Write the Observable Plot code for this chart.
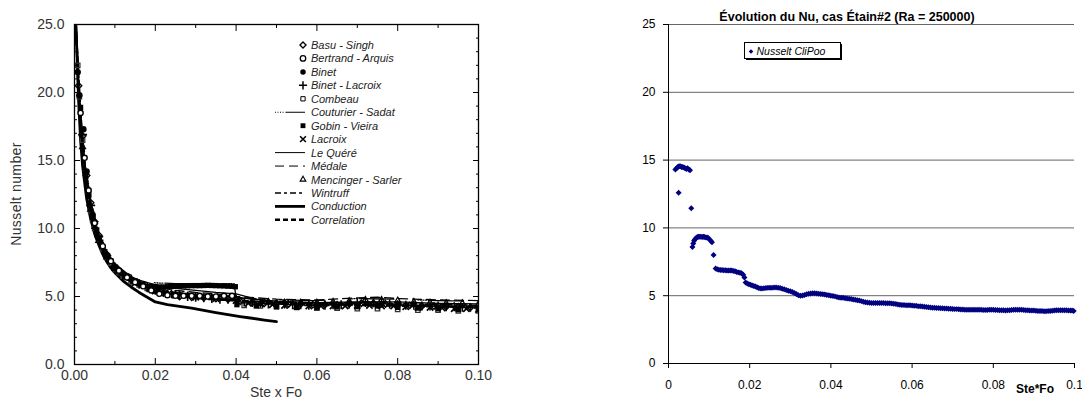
<!DOCTYPE html>
<html><head><meta charset="utf-8">
<script src="https://cdn.jsdelivr.net/npm/d3@7"></script>
<script src="https://cdn.jsdelivr.net/npm/@observablehq/plot@0.6"></script>
<style>
html,body{margin:0;padding:0;background:#fff;}
#wrap{position:relative;width:1082px;height:399px;overflow:hidden;font-family:"Liberation Sans",Arial,sans-serif;}
#left{position:absolute;left:0;top:0;}
#right{position:absolute;left:560px;top:0;}
#overlay{position:absolute;left:0;top:0;pointer-events:none;}
</style></head><body>
<div id="wrap"><div id="left"></div><div id="right"></div><svg id="overlay" width="1082" height="399"></svg></div>
<script>
// ---------- LEFT PANEL DATA: [Ste x Fo, Nusselt] ----------
const leftSeriesNames = ["Basu - Singh","Bertrand - Arquis","Binet","Binet - Lacroix","Combeau","Couturier - Sadat","Gobin - Vieira","Lacroix","Le Quéré","Médale","Mencinger - Sarler","Wintruff","Conduction","Correlation"];

const basuSingh = [[0.001,20.5],[0.002,16.8],[0.003,13.9],[0.004,11.9],[0.005,10.5],[0.006,9.5],[0.008,8.1],[0.010,7.2],[0.012,6.65],[0.014,6.25],[0.016,5.95],[0.018,5.7],[0.020,5.5],[0.023,5.2],[0.026,5.0],[0.029,4.95],[0.032,4.9],[0.035,4.85],[0.038,4.8],[0.041,4.65],[0.044,4.55],[0.047,4.5],[0.050,4.5],[0.053,4.45],[0.056,4.45],[0.059,4.4],[0.062,4.4],[0.065,4.4],[0.068,4.45],[0.071,4.5],[0.074,4.5],[0.077,4.45],[0.080,4.4],[0.083,4.35],[0.086,4.3],[0.089,4.3],[0.092,4.25],[0.095,4.25],[0.098,4.2]];
const bertrandArquis = [[0.0015,18.5],[0.0025,15.2],[0.0035,12.8],[0.005,10.4],[0.007,8.7],[0.009,7.6],[0.011,6.9],[0.013,6.4],[0.015,6.05],[0.017,5.75],[0.019,5.45],[0.021,5.2],[0.023,5.1],[0.025,5.05],[0.027,5.05],[0.029,5.05],[0.031,5.05],[0.033,5.0],[0.035,5.0],[0.037,5.05],[0.039,5.05]];
const binet = [[0.0008,21.5],[0.0012,19.8],[0.0022,17.3],[0.003,14.2],[0.0045,11.0],[0.006,9.3],[0.008,8.0],[0.010,7.1]];
const binetLacroix = [[0.002,16.9],[0.004,11.7],[0.006,9.4],[0.008,8.0],[0.010,7.15],[0.012,6.6],[0.014,6.2],[0.016,5.9],[0.018,5.65],[0.020,5.45],[0.022,5.3],[0.024,5.2],[0.026,5.1],[0.028,5.0],[0.030,4.95],[0.032,4.9],[0.034,4.85],[0.036,4.8],[0.038,4.8],[0.040,4.75],[0.042,4.6],[0.044,4.55],[0.046,4.5],[0.048,4.45],[0.050,4.45],[0.052,4.45],[0.054,4.4],[0.056,4.4],[0.058,4.35],[0.060,4.35],[0.062,4.35],[0.064,4.4],[0.066,4.4],[0.068,4.45],[0.070,4.5],[0.072,4.55],[0.074,4.55],[0.076,4.5],[0.078,4.45],[0.080,4.4],[0.082,4.35],[0.084,4.35],[0.086,4.3],[0.088,4.3],[0.090,4.3],[0.092,4.25],[0.094,4.25],[0.096,4.2],[0.098,4.2],[0.100,4.15]];
const combeau = [[0.0008,22],[0.0012,19.7],[0.002,16.5],[0.0028,14.1],[0.0035,12.5],[0.004,11.3],[0.0045,10.6],[0.005,10.0],[0.006,9.2],[0.007,8.5],[0.008,7.9],[0.009,7.45],[0.010,7.0],[0.011,6.75],[0.012,6.5],[0.014,6.15],[0.016,5.85],[0.018,5.6],[0.020,5.4],[0.022,5.25],[0.042,4.35],[0.046,4.3],[0.050,4.25],[0.055,4.2],[0.060,4.15],[0.065,4.15],[0.070,4.1],[0.075,4.1],[0.080,4.05],[0.085,4.0],[0.090,4.0],[0.095,3.95],[0.100,3.95]];
const couturierSadat = [[0.0005,24],[0.001,20],[0.002,16.8],[0.004,12],[0.006,9.8],[0.008,8.3],[0.010,7.4],[0.013,6.7],[0.016,6.3],[0.020,6.0],[0.025,5.95],[0.030,5.95],[0.035,5.95],[0.0395,5.95],[0.040,4.9],[0.050,4.75],[0.060,4.7],[0.070,4.85],[0.080,4.8],[0.090,4.7],[0.100,4.65]];
const gobinVieira = [[0.0015,18.9],[0.0027,14.0],[0.0035,12.4],[0.0045,10.8],[0.0055,9.9],[0.0065,9.0],[0.0075,8.3],[0.009,7.6],[0.011,6.9],[0.013,6.5],[0.015,6.15],[0.017,5.9],[0.019,5.75],[0.020,5.72],[0.021,5.7],[0.022,5.7],[0.023,5.72],[0.024,5.73],[0.025,5.75],[0.026,5.76],[0.027,5.78],[0.028,5.79],[0.029,5.8],[0.030,5.8],[0.031,5.8],[0.032,5.81],[0.033,5.82],[0.034,5.81],[0.035,5.8],[0.036,5.79],[0.037,5.78],[0.038,5.76],[0.039,5.75],[0.0398,5.72],[0.0402,4.4],[0.045,4.3],[0.050,4.25],[0.055,4.2],[0.060,4.2],[0.065,4.25],[0.070,4.25],[0.075,4.3],[0.080,4.2],[0.085,4.15],[0.090,4.1],[0.095,4.05],[0.100,4.05]];
const lacroix = [[0.005,10.2],[0.010,7.1],[0.015,6.0],[0.020,5.4],[0.025,5.1],[0.030,4.95],[0.035,4.85],[0.040,4.7],[0.043,4.5],[0.046,4.45],[0.049,4.4],[0.052,4.35],[0.055,4.3],[0.058,4.3],[0.061,4.3],[0.064,4.3],[0.067,4.3],[0.070,4.35],[0.073,4.35],[0.076,4.3],[0.079,4.3],[0.082,4.25],[0.085,4.2],[0.088,4.2],[0.091,4.15],[0.094,4.1],[0.097,4.1],[0.100,4.05]];
const leQuere = [[0.0005,25],[0.001,20.5],[0.002,16.5],[0.003,13.8],[0.004,11.9],[0.005,10.6],[0.006,9.6],[0.008,8.2],[0.010,7.3],[0.013,6.6],[0.016,6.2],[0.020,5.85],[0.025,5.6],[0.030,5.45],[0.035,5.3],[0.040,5.2],[0.045,4.8],[0.050,4.65],[0.060,4.55],[0.070,4.6],[0.080,4.6],[0.090,4.5],[0.100,4.45]];
const medale = [[0.0005,24.5],[0.001,20.8],[0.002,16.2],[0.004,11.4],[0.006,9.1],[0.008,7.9],[0.010,7.1],[0.013,6.5],[0.016,6.05],[0.020,5.7],[0.025,5.45],[0.030,5.3],[0.035,5.2],[0.040,5.0],[0.050,4.8],[0.060,4.75],[0.070,4.9],[0.075,4.95],[0.080,4.85],[0.090,4.75],[0.100,4.7]];
const mencingerSarler = [[0.002,16.0],[0.004,11.4],[0.006,9.1],[0.008,7.9],[0.010,7.05],[0.013,6.4],[0.016,5.95],[0.019,5.55],[0.022,5.3],[0.025,5.15],[0.028,5.05],[0.031,4.95],[0.034,4.9],[0.037,4.85],[0.040,4.8],[0.044,4.65],[0.048,4.6],[0.052,4.55],[0.056,4.55],[0.060,4.55],[0.064,4.6],[0.068,4.65],[0.072,4.75],[0.076,4.75],[0.080,4.7],[0.084,4.6],[0.088,4.55],[0.092,4.5],[0.096,4.5],[0.100,4.45]];
const wintruff = [[0.0005,23],[0.001,19.8],[0.002,15.5],[0.004,11.2],[0.006,9.0],[0.008,7.8],[0.010,7.0],[0.013,6.35],[0.016,5.9],[0.020,5.55],[0.025,5.3],[0.030,5.15],[0.035,5.05],[0.040,4.95],[0.050,4.6],[0.060,4.5],[0.070,4.55],[0.080,4.5],[0.090,4.4],[0.100,4.35]];
const conduction = [[0.0003,25],[0.0006,23],[0.001,19.5],[0.0015,16.5],[0.002,14.6],[0.003,12.2],[0.004,10.7],[0.005,9.6],[0.006,8.8],[0.007,8.1],[0.008,7.55],[0.009,7.1],[0.010,6.75],[0.012,6.15],[0.014,5.7],[0.016,5.3],[0.018,4.95],[0.020,4.6],[0.023,4.4],[0.026,4.28],[0.029,4.15],[0.032,3.98],[0.035,3.82],[0.038,3.66],[0.041,3.52],[0.044,3.4],[0.047,3.27],[0.050,3.15]];
const correlation = [[0.0003,25],[0.001,21],[0.002,16],[0.003,13.5],[0.004,11.6],[0.005,10.3],[0.006,9.3],[0.008,8.0],[0.010,7.2],[0.013,6.4],[0.016,5.95],[0.020,5.5],[0.025,5.15],[0.030,4.95],[0.035,4.8],[0.040,4.7],[0.050,4.55],[0.060,4.45],[0.070,4.38],[0.080,4.32],[0.090,4.27],[0.100,4.22]];

const leftMajorX = [0, 0.02, 0.04, 0.06, 0.08, 0.1];
const leftMinorX = [0.01, 0.03, 0.05, 0.07, 0.09];
const leftMajorY = [0, 5, 10, 15, 20, 25];
const leftMinorY = [1,2,3,4,6,7,8,9,11,12,13,14,16,17,18,19,21,22,23,24];

// ---------- RIGHT PANEL DATA: Nusselt CliPoo [Ste*Fo, Nu] ----------
const cliPoo = [[0.0017,14.3],[0.0020,14.4],[0.0023,14.5],[0.0025,12.6],[0.0026,14.55],[0.0029,14.55],[0.0032,14.5],[0.0035,14.5],[0.0038,14.45],[0.0041,14.4],[0.0044,14.35],[0.0047,14.4],[0.0050,14.3],[0.0053,14.25],[0.0056,11.45],[0.0059,8.6],[0.0061,8.85],[0.0063,9.05],[0.0065,9.15],[0.0068,9.25],[0.0071,9.33],[0.0074,9.35],[0.0077,9.35],[0.0080,9.35],[0.0083,9.33],[0.0086,9.35],[0.0089,9.32],[0.0092,9.3],[0.0095,9.3],[0.0098,9.25],[0.0101,9.15],[0.0104,9.05],[0.0107,8.95],[0.0111,8.0],[0.0116,7.0],[0.0120,6.95],[0.0124,6.92],[0.0128,6.9],[0.0132,6.9],[0.0136,6.88],[0.0140,6.87],[0.0144,6.86],[0.0148,6.86],[0.0152,6.85],[0.0156,6.85],[0.0160,6.83],[0.0164,6.8],[0.0168,6.75],[0.0172,6.72],[0.0176,6.7],[0.0180,6.66],[0.0184,6.55],[0.0187,6.35],[0.0190,5.98],[0.0194,5.9],[0.0198,5.85],[0.0202,5.8],[0.0206,5.76],[0.0210,5.72],[0.0214,5.68],[0.0218,5.62],[0.0222,5.56],[0.0226,5.54],[0.0230,5.53],[0.0235,5.55],[0.0240,5.56],[0.0245,5.58],[0.0250,5.58],[0.0255,5.59],[0.0260,5.6],[0.0265,5.6],[0.0270,5.59],[0.0275,5.56],[0.0280,5.52],[0.0285,5.47],[0.0290,5.42],[0.0295,5.37],[0.0300,5.32],[0.0305,5.27],[0.0310,5.2],[0.0315,5.12],[0.0320,5.03],[0.0325,5.0],[0.0330,5.02],[0.0335,5.06],[0.0340,5.1],[0.0345,5.14],[0.0350,5.17],[0.0355,5.18],[0.0360,5.18],[0.0365,5.17],[0.0370,5.15],[0.0375,5.13],[0.0380,5.1],[0.0385,5.08],[0.0390,5.05],[0.0395,5.03],[0.0400,5.0],[0.0405,4.98],[0.041,4.95],[0.0415,4.91],[0.042,4.87],[0.0425,4.85],[0.043,4.84],[0.0435,4.82],[0.044,4.8],[0.0445,4.78],[0.045,4.75],[0.0455,4.72],[0.046,4.7],[0.0465,4.67],[0.047,4.64],[0.0475,4.6],[0.048,4.56],[0.0485,4.52],[0.049,4.49],[0.0495,4.48],[0.050,4.47],[0.0505,4.46],[0.051,4.46],[0.0515,4.46],[0.052,4.46],[0.0525,4.46],[0.053,4.46],[0.0535,4.45],[0.054,4.45],[0.0545,4.44],[0.055,4.42],[0.0555,4.4],[0.056,4.38],[0.0565,4.36],[0.057,4.34],[0.0575,4.32],[0.058,4.31],[0.0585,4.3],[0.059,4.3],[0.0595,4.29],[0.060,4.28],[0.0605,4.26],[0.061,4.25],[0.0615,4.23],[0.062,4.22],[0.0625,4.2],[0.063,4.18],[0.0635,4.16],[0.064,4.15],[0.0645,4.13],[0.065,4.12],[0.0655,4.11],[0.066,4.1],[0.0665,4.09],[0.067,4.08],[0.0675,4.07],[0.068,4.06],[0.0685,4.05],[0.069,4.04],[0.0695,4.03],[0.070,4.02],[0.0705,4.01],[0.071,4.01],[0.0715,4.0],[0.072,3.99],[0.0725,3.98],[0.073,3.97],[0.0735,3.96],[0.074,3.96],[0.0745,3.96],[0.075,3.96],[0.0755,3.96],[0.076,3.96],[0.0765,3.96],[0.077,3.96],[0.0775,3.95],[0.078,3.95],[0.0785,3.95],[0.079,3.96],[0.0795,3.96],[0.080,3.96],[0.0805,3.95],[0.081,3.94],[0.0815,3.93],[0.082,3.93],[0.0825,3.92],[0.083,3.91],[0.0835,3.92],[0.084,3.93],[0.0845,3.95],[0.085,3.96],[0.0855,3.97],[0.086,3.97],[0.0865,3.96],[0.087,3.96],[0.0875,3.94],[0.088,3.93],[0.0885,3.92],[0.089,3.91],[0.0895,3.9],[0.090,3.9],[0.0905,3.89],[0.091,3.88],[0.0915,3.87],[0.092,3.87],[0.0925,3.86],[0.093,3.86],[0.0935,3.87],[0.094,3.88],[0.0945,3.89],[0.095,3.9],[0.0955,3.92],[0.096,3.93],[0.0965,3.93],[0.097,3.93],[0.0975,3.92],[0.098,3.92],[0.0985,3.91],[0.099,3.91],[0.0994,3.9],[0.0998,3.88]];
const rightTicksX = [0, 0.02, 0.04, 0.06, 0.08, 0.1];
const rightTicksY = [0, 5, 10, 15, 20, 25];

// ---------- LEFT CHART ----------
const xy = {x: d => d[0], y: d => d[1], clip: true};
const blank = () => "";
const inTicks = (ticks, anchor, size) => {
  const shift = {bottom: {dy: -size}, top: {dy: size}, left: {dx: size}, right: {dx: -size}}[anchor];
  const opts = {anchor, tickSize: size, tickFormat: blank, label: null, stroke: "black", ...shift};
  return (anchor === "bottom" || anchor === "top") ? Plot.axisX(ticks, opts) : Plot.axisY(ticks, opts);
};
const leftChart = Plot.plot({
  width: 540, height: 399,
  marginLeft: 74, marginRight: 62, marginTop: 24, marginBottom: 35,
  style: {fontFamily: '"Liberation Sans", Arial, sans-serif', fontSize: "14px", color: "#222", background: "transparent", overflow: "visible"},
  x: {domain: [0, 0.1]},
  y: {domain: [0, 25]},
  marks: [
    Plot.line(conduction, {...xy, stroke: "black", strokeWidth: 2.8}),
    Plot.line(correlation, {...xy, stroke: "black", strokeWidth: 2.4, strokeDasharray: "5,3"}),
    Plot.line(leQuere, {...xy, stroke: "black", strokeWidth: 1.3}),
    Plot.line(couturierSadat, {...xy, stroke: "black", strokeWidth: 1.3, strokeDasharray: "1,1.5,1,1.5,1,1.5,1,2,24"}),
    Plot.line(medale, {...xy, stroke: "black", strokeWidth: 1.3, strokeDasharray: "9,5"}),
    Plot.line(wintruff, {...xy, stroke: "black", strokeWidth: 1.6, strokeDasharray: "6,3,3,3"}),
    Plot.dot(combeau, {...xy, symbol: "square2", stroke: "#333", fill: "none", r: 2.8, strokeWidth: 1.3}),
    Plot.dot(gobinVieira, {...xy, symbol: "square", fill: "black", r: 3}),
    Plot.dot(binet, {...xy, symbol: "circle", fill: "black", r: 3.2}),
    Plot.dot(binetLacroix, {...xy, symbol: "plus", stroke: "black", r: 3, strokeWidth: 1.6}),
    Plot.dot(lacroix, {...xy, symbol: "times", stroke: "black", r: 3, strokeWidth: 1.7}),
    Plot.dot(mencingerSarler, {...xy, symbol: "triangle2", stroke: "black", fill: "none", r: 2.8, strokeWidth: 1.3}),
    Plot.dot(basuSingh, {...xy, symbol: "diamond2", stroke: "black", fill: "none", r: 2.9, strokeWidth: 1.4}),
    Plot.dot(bertrandArquis, {...xy, symbol: "circle", stroke: "black", fill: "white", r: 2.6, strokeWidth: 1.4}),
    Plot.frame({stroke: "black", strokeWidth: 1.3}),
    inTicks(leftMajorX, "bottom", 6),
    inTicks(leftMajorX, "top", 6),
    inTicks(leftMinorX, "bottom", 3),
    inTicks(leftMinorX, "top", 3),
    inTicks(leftMajorY, "left", 6),
    inTicks(leftMajorY, "right", 6),
    inTicks(leftMinorY, "left", 3),
    inTicks(leftMinorY, "right", 3),
    Plot.axisX(leftMajorX, {anchor: "bottom", tickSize: 0, tickPadding: 6, tickFormat: d3.format(".2f"), label: null, fill: "#333"}),
    Plot.axisY(leftMajorY, {anchor: "left", tickSize: 0, tickPadding: 10, tickFormat: d3.format(".1f"), label: null, fill: "#333"})
  ]
});
document.getElementById("left").appendChild(leftChart);

// ---------- RIGHT CHART ----------
const rightChart = Plot.plot({
  width: 522, height: 399,
  marginLeft: 108, marginRight: 8, marginTop: 24, marginBottom: 36,
  style: {fontFamily: '"Liberation Sans", Arial, sans-serif', fontSize: "12px", color: "black", background: "transparent", overflow: "visible"},
  x: {domain: [0, 0.1]},
  y: {domain: [0, 25]},
  marks: [
    Plot.gridY(rightTicksY, {stroke: "#666", strokeOpacity: 1, strokeWidth: 1}),
    Plot.ruleY([0], {stroke: "black"}),
    Plot.ruleX([0], {stroke: "black"}),
    Plot.axisY(rightTicksY, {anchor: "left", tickSize: 5, tickPadding: 8, label: null}),
    Plot.axisX(rightTicksX, {anchor: "bottom", tickSize: 5, tickPadding: 12, tickFormat: d => String(d), label: null}),
    Plot.dot(cliPoo, {x: d => d[0], y: d => d[1], symbol: "diamond2", fill: "#000080", r: 2.7})
  ]
});
document.getElementById("right").appendChild(rightChart);

// ---------- OVERLAY: titles, axis labels, legends ----------
const ov = d3.select("#overlay").style("font-family", '"Liberation Sans", Arial, sans-serif');
ov.append("text").attr("transform", "translate(21,194) rotate(-90)").attr("text-anchor", "middle")
  .attr("font-size", 14).attr("fill", "#333").attr("letter-spacing", 0.4).text("Nusselt number");
ov.append("text").attr("x", 276).attr("y", 397).attr("text-anchor", "middle")
  .attr("font-size", 14).attr("fill", "#333").text("Ste x Fo");
ov.append("text").attr("x", 847).attr("y", 21).attr("text-anchor", "middle")
  .attr("font-size", 12.5).attr("font-weight", "bold").attr("fill", "black")
  .text("Évolution du Nu, cas Étain#2 (Ra = 250000)");
ov.append("text").attr("x", 1035).attr("y", 393).attr("text-anchor", "middle")
  .attr("font-size", 12).attr("font-weight", "bold").attr("fill", "black").text("Ste*Fo");

// left legend
const legendStyles = [
  {sym: d3.symbolDiamond2, fill: "white", sw: 1.3},
  {sym: d3.symbolCircle, fill: "white", sw: 1.3},
  {sym: d3.symbolCircle, fill: "black", sw: 0},
  {sym: d3.symbolPlus, fill: "none", sw: 1.5},
  {sym: d3.symbolSquare2, fill: "white", sw: 1},
  {line: 1, dash: "1,1.5,1,1.5,1,1.5,1,2,24"},
  {sym: d3.symbolSquare, fill: "black", sw: 0},
  {sym: d3.symbolTimes, fill: "none", sw: 1.6},
  {line: 1, dash: null},
  {line: 1, dash: "9,5"},
  {sym: d3.symbolTriangle2, fill: "white", sw: 1.1},
  {line: 1.5, dash: "6,3,3,3"},
  {line: 2.8, dash: null},
  {line: 2.5, dash: "5,3"}
];
leftSeriesNames.forEach((name, i) => {
  const y = 45 + i * 13.45;
  const s = legendStyles[i];
  if (s.line) {
    ov.append("line").attr("x1", 275).attr("x2", 305).attr("y1", y).attr("y2", y)
      .attr("stroke", "black").attr("stroke-width", s.line).attr("stroke-dasharray", s.dash);
  } else {
    ov.append("path").attr("transform", `translate(303,${y})`)
      .attr("d", d3.symbol(s.sym, Math.PI * 7.5)())
      .attr("fill", s.fill).attr("stroke", s.sw ? "black" : "none").attr("stroke-width", s.sw);
  }
  ov.append("text").attr("x", 311).attr("y", y + 4).attr("font-size", 11).attr("font-style", "italic")
    .attr("fill", "#222").text(name);
});

// right legend box
ov.append("rect").attr("x", 746).attr("y", 44).attr("width", 96).attr("height", 16).attr("fill", "black");
ov.append("rect").attr("x", 744.5).attr("y", 42.5).attr("width", 96).attr("height", 16).attr("fill", "white").attr("stroke", "black");
ov.append("path").attr("transform", "translate(751,51.5)").attr("d", d3.symbol(d3.symbolDiamond2, 14)()).attr("fill", "#000080");
ov.append("text").attr("x", 756.5).attr("y", 55).attr("font-size", 10.5).attr("font-style", "italic").attr("fill", "black").text("Nusselt CliPoo");
</script></body></html>
